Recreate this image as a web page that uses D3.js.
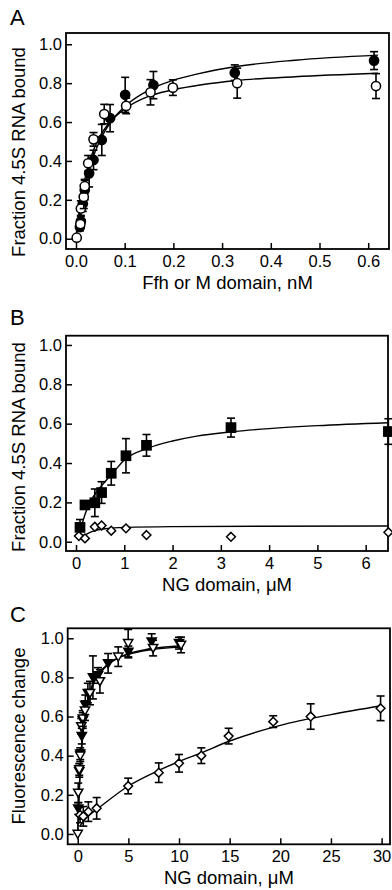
<!DOCTYPE html>
<html>
<head>
<meta charset="utf-8">
<script src="https://cdn.jsdelivr.net/npm/d3@7"></script>
<style>
  body { margin: 0; background: #fff; }
  svg { display: block; font-family: "Liberation Sans", Arial, sans-serif; }
</style>
</head>
<body>
<div id="container"></div>
<script>
/* DATA: [x, y, error] */

// Panel A  (Ffh / M domain, nM)
const aFilled = [
  [0.008, 0.06, 0.02], [0.010, 0.09, 0.03], [0.014, 0.18, 0.04], [0.018, 0.25, 0.05],
  [0.027, 0.336, 0.07], [0.036, 0.405, 0.05], [0.053, 0.508, 0.08], [0.070, 0.62, 0.07],
  [0.101, 0.74, 0.09], [0.159, 0.79, 0.07], [0.326, 0.854, 0.04], [0.612, 0.916, 0.046]
];
const aOpen = [
  [0.0015, 0.005, 0], [0.009, 0.075, 0.02], [0.010, 0.155, 0.04], [0.016, 0.215, 0.06],
  [0.018, 0.27, 0.035], [0.025, 0.388, 0.04], [0.036, 0.511, 0.035], [0.058, 0.641, 0.05],
  [0.103, 0.683, 0.04], [0.153, 0.753, 0.065], [0.199, 0.777, 0.04], [0.331, 0.80, 0.077],
  [0.616, 0.785, 0.064]
];
const aFilledFit = [
  [0, 0], [0.01, 0.17], [0.02, 0.29], [0.03, 0.38], [0.05, 0.51], [0.07, 0.595],
  [0.10, 0.68], [0.15, 0.765], [0.20, 0.815], [0.25, 0.848], [0.33, 0.886],
  [0.45, 0.918], [0.62, 0.944]
];
const aOpenFit = [
  [0, 0], [0.01, 0.20], [0.02, 0.327], [0.03, 0.415], [0.05, 0.53], [0.07, 0.60],
  [0.10, 0.667], [0.15, 0.733], [0.20, 0.766], [0.33, 0.814], [0.45, 0.833], [0.62, 0.851]
];
const aXTicks = [0, 0.1, 0.2, 0.3, 0.4, 0.5, 0.6];

// Panel B  (NG domain, uM)
const bSquares = [
  [0.083, 0.073, 0.04], [0.186, 0.187, 0], [0.39, 0.198, 0.07], [0.53, 0.25, 0.055],
  [0.73, 0.348, 0.06], [1.035, 0.437, 0.087], [1.46, 0.49, 0.055], [3.21, 0.58, 0.048],
  [6.47, 0.56, 0.065]
];
const bDiamonds = [
  [0.06, 0.029], [0.186, 0.017], [0.39, 0.076], [0.53, 0.083], [0.73, 0.056],
  [1.035, 0.068], [1.46, 0.034], [3.21, 0.025], [6.47, 0.048]
];
const bSquaresFit = [
  [0.07, 0.035], [0.15, 0.11], [0.25, 0.18], [0.4, 0.245], [0.6, 0.305], [0.8, 0.36],
  [1.0, 0.415], [1.5, 0.476], [2.0, 0.512], [2.5, 0.537], [3.2, 0.558], [4.0, 0.575],
  [5.0, 0.59], [6.46, 0.605]
];
const bDiamondsFit = [
  [0.12, 0.025], [0.36, 0.054], [0.6, 0.066], [1.05, 0.073], [2.0, 0.077],
  [3.8, 0.079], [6.46, 0.08]
];
const bXTicks = [0, 1, 2, 3, 4, 5, 6];

// Panel C  (NG domain, uM)
const cFilledTri = [
  [0.05, 0.13, 0.03], [0.15, 0.32, 0.03], [0.25, 0.41, 0.03], [0.4, 0.50, 0.04],
  [0.5, 0.58, 0.04], [0.75, 0.66, 0.05], [1.0, 0.72, 0.05], [1.5, 0.80, 0.11],
  [2.0, 0.81, 0.04], [3.0, 0.872, 0.05], [5.0, 0.93, 0.03], [7.3, 0.983, 0.04],
  [10.0, 0.975, 0.03]
];
const cOpenTri = [
  [0.0, 0.0, 0], [0.05, 0.21, 0.05], [0.15, 0.33, 0.03], [0.25, 0.40, 0.03],
  [0.35, 0.55, 0.04], [0.5, 0.59, 0.04], [0.72, 0.63, 0.05], [1.21, 0.72, 0.06],
  [2.19, 0.78, 0.06], [4.0, 0.906, 0.05], [4.98, 0.975, 0.07], [7.44, 0.95, 0.04],
  [10.2, 0.966, 0.04]
];
const cDiamonds = [
  [0.23, 0.097, 0.04], [0.55, 0.09, 0.05], [1.05, 0.114, 0.05], [1.87, 0.131, 0.055],
  [4.98, 0.245, 0.04], [8.0, 0.313, 0.05], [10.0, 0.361, 0.045], [12.2, 0.40, 0.04],
  [14.9, 0.50, 0.04], [19.3, 0.574, 0.03], [23.0, 0.60, 0.065], [29.9, 0.642, 0.063]
];
const cFilledFit = [
  [0, 0], [0.1, 0.15], [0.2, 0.27], [0.3, 0.37], [0.5, 0.50], [0.75, 0.61], [1.0, 0.68],
  [1.5, 0.76], [2.0, 0.81], [3.0, 0.865], [4.0, 0.90], [5.0, 0.922], [7.0, 0.945], [10.3, 0.962]
];
const cOpenFit = [
  [0, 0], [0.1, 0.17], [0.2, 0.29], [0.3, 0.39], [0.5, 0.52], [0.75, 0.62], [1.0, 0.69],
  [1.5, 0.77], [2.0, 0.815], [3.0, 0.87], [4.0, 0.90], [5.0, 0.918], [7.0, 0.94], [10.3, 0.955]
];
const cDiamondsFit = [
  [0.2, 0.04], [1.0, 0.09], [2.0, 0.13], [5.0, 0.245], [8.0, 0.325], [10.0, 0.37],
  [12.0, 0.41], [15.0, 0.475], [20.0, 0.555], [25.0, 0.61], [30.0, 0.655]
];
const cXTicks = [0, 5, 10, 15, 20, 25, 30];

const yTicks = [0, 0.2, 0.4, 0.6, 0.8, 1.0];

/* CONSTANTS AND GLOBALS */
const width = 392, height = 890;

const svg = d3.select("#container")
  .append("svg")
  .attr("width", width)
  .attr("height", height);

// marker shapes
function marker(sel, shape) {
  if (shape === "circle") {
    return sel.append("circle").attr("r", 4.6);
  }
  if (shape === "square") {
    return sel.append("rect").attr("x", -4.6).attr("y", -4.6).attr("width", 9.2).attr("height", 9.2);
  }
  if (shape === "diamond") {
    return sel.append("path").attr("d", "M0,-4.4L4.4,0L0,4.4L-4.4,0Z");
  }
  // downward triangle
  return sel.append("path").attr("d", "M-4.6,-3.6L4.6,-3.6L0,4.4Z");
}

function drawPanel(p) {
  const g = svg.append("g");

  // SCALES
  const xScale = d3.scaleLinear().domain(p.xDomain).range([p.left, p.right]);
  const yScale = d3.scaleLinear().domain(p.yDomain).range([p.bottom, p.top]);

  // AXES (ticks point inward, frame drawn separately)
  const xAxis = d3.axisBottom(xScale)
    .tickValues(p.xTicks)
    .tickFormat(p.xFormat)
    .tickSizeInner(-6)
    .tickSizeOuter(0)
    .tickPadding(6);

  const yAxis = d3.axisLeft(yScale)
    .tickValues(yTicks)
    .tickFormat(d3.format(".1f"))
    .tickSizeInner(-6)
    .tickSizeOuter(0)
    .tickPadding(4);

  [
    g.append("g").attr("transform", `translate(0, ${p.bottom})`).call(xAxis),
    g.append("g").attr("transform", `translate(${p.left}, 0)`).call(yAxis)
  ].forEach(a => {
    a.select(".domain").remove();
    a.attr("font-family", null).attr("font-size", 16.5);
    a.selectAll("line").attr("stroke", "#000").attr("stroke-width", 1.5);
    a.selectAll("text").attr("fill", "#000");
  });

  // FRAME
  g.append("rect")
    .attr("x", p.left).attr("y", p.top)
    .attr("width", p.right - p.left).attr("height", p.bottom - p.top)
    .attr("fill", "none").attr("stroke", "#000").attr("stroke-width", 1.8);

  // FIT CURVES
  const line = d3.line()
    .x(d => xScale(d[0]))
    .y(d => yScale(d[1]))
    .curve(d3.curveMonotoneX);

  p.fits.forEach(f => {
    g.append("path")
      .datum(f)
      .attr("d", line)
      .attr("fill", "none")
      .attr("stroke", "#000")
      .attr("stroke-width", 1.4);
  });

  // POINTS + ERROR BARS
  p.series.forEach(s => {
    const pts = g.append("g").selectAll("g")
      .data(s.data)
      .join("g")
      .attr("transform", d => `translate(${xScale(d[0])}, ${yScale(d[1])})`);

    const withErr = pts.filter(d => d[2]);
    withErr.append("line")
      .attr("x1", 0).attr("x2", 0)
      .attr("y1", d => yScale(d[1] + d[2]) - yScale(d[1]))
      .attr("y2", d => yScale(d[1] - d[2]) - yScale(d[1]));
    withErr.append("line")
      .attr("x1", -4).attr("x2", 4)
      .attr("y1", d => yScale(d[1] + d[2]) - yScale(d[1]))
      .attr("y2", d => yScale(d[1] + d[2]) - yScale(d[1]));
    withErr.append("line")
      .attr("x1", -4).attr("x2", 4)
      .attr("y1", d => yScale(d[1] - d[2]) - yScale(d[1]))
      .attr("y2", d => yScale(d[1] - d[2]) - yScale(d[1]));
    pts.selectAll("line").attr("stroke", "#000").attr("stroke-width", 1.6);

    marker(pts, s.shape)
      .attr("fill", s.filled ? "#000" : "#fff")
      .attr("stroke", "#000")
      .attr("stroke-width", 1.5);
  });

  // TITLES
  svg.append("text")
    .attr("x", (p.left + p.right) / 2)
    .attr("y", p.xTitleY)
    .attr("text-anchor", "middle")
    .attr("font-size", 18.5)
    .text(p.xTitle);

  svg.append("text")
    .attr("transform", `translate(25, ${p.yTitleC}) rotate(-90)`)
    .attr("text-anchor", "middle")
    .attr("font-size", 18.5)
    .text(p.yTitle);

  svg.append("text")
    .attr("x", 10)
    .attr("y", p.letterY)
    .attr("font-size", 22)
    .text(p.letter);
}

drawPanel({
  letter: "A", letterY: 25,
  left: 66, right: 389, top: 33, bottom: 249,
  xDomain: [-0.0205, 0.6427], yDomain: [-0.053, 1.058],
  xTicks: aXTicks, xFormat: d3.format(".1f"),
  xTitle: "Ffh or M domain, nM", xTitleY: 289,
  yTitle: "Fraction 4.5S RNA bound", yTitleC: 152,
  fits: [aFilledFit, aOpenFit],
  series: [
    { data: aFilled, shape: "circle", filled: true },
    { data: aOpen, shape: "circle", filled: false }
  ]
});

drawPanel({
  letter: "B", letterY: 325,
  left: 66, right: 388, top: 335.7, bottom: 551,
  xDomain: [-0.207, 6.462], yDomain: [-0.047, 1.047],
  xTicks: bXTicks, xFormat: d3.format("d"),
  xTitle: "NG domain, \u03bcM", xTitleY: 591,
  yTitle: "Fraction 4.5S RNA bound", yTitleC: 447,
  fits: [bSquaresFit, bDiamondsFit],
  series: [
    { data: bSquares, shape: "square", filled: true },
    { data: bDiamonds, shape: "diamond", filled: false }
  ]
});

drawPanel({
  letter: "C", letterY: 622,
  left: 67.7, right: 390, top: 628.3, bottom: 844.3,
  xDomain: [-0.99, 30.83], yDomain: [-0.053, 1.051],
  xTicks: cXTicks, xFormat: d3.format("d"),
  xTitle: "NG domain, \u03bcM", xTitleY: 884,
  yTitle: "Fluorescence change", yTitleC: 736,
  fits: [cFilledFit, cOpenFit, cDiamondsFit],
  series: [
    { data: cFilledTri, shape: "triangle", filled: true },
    { data: cOpenTri, shape: "triangle", filled: false },
    { data: cDiamonds, shape: "diamond", filled: false }
  ]
});
</script>
</body>
</html>
